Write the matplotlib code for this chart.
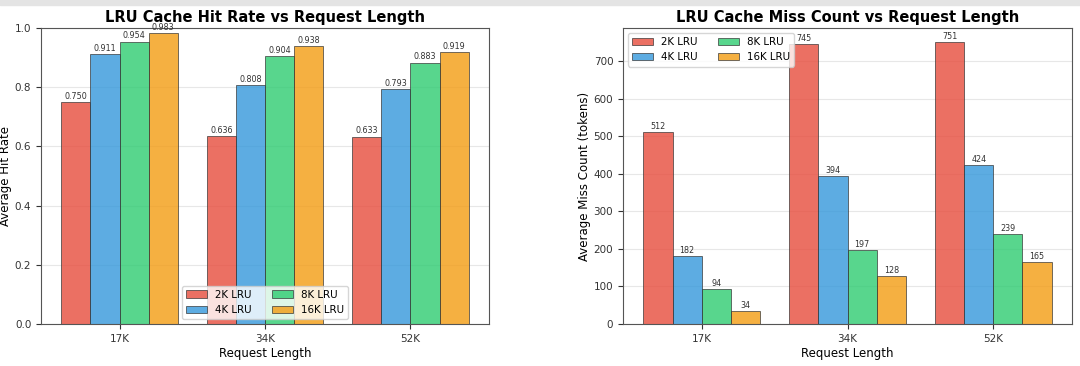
import matplotlib.pyplot as plt
from matplotlib.patches import Rectangle
import numpy as np

lengths = ['17K', '34K', '52K']
cache_sizes = ['2K LRU', '4K LRU', '8K LRU', '16K LRU']
hit_rate = [
    [0.750, 0.636, 0.633],
    [0.911, 0.808, 0.793],
    [0.954, 0.904, 0.883],
    [0.983, 0.938, 0.919],
]
miss_count = [
    [512, 745, 751],
    [182, 394, 424],
    [94, 197, 239],
    [34, 128, 165],
]
colors = ['#e74c3c', '#3498db', '#2ecc71', '#f39c12']

fig = plt.figure(figsize=(10.8, 3.66), dpi=100)
# thin grey strip at the top of the screenshot
fig.patches.append(Rectangle((0, 0.985), 1, 0.015, transform=fig.transFigure,
                             color='#e4e4e4', zorder=-1))
ax1 = fig.add_axes([41 / 1080, 42 / 366, 448 / 1080, 296 / 366])
ax2 = fig.add_axes([623 / 1080, 42 / 366, 449 / 1080, 296 / 366])

x = np.arange(len(lengths))
w = 0.2

for i, name in enumerate(cache_sizes):
    bars = ax1.bar(x + (i - 1.5) * w, hit_rate[i], w, label=name, color=colors[i],
                   alpha=0.8, edgecolor='#333333', linewidth=0.6)
    for b, v in zip(bars, hit_rate[i]):
        ax1.text(b.get_x() + b.get_width() / 2, v + 0.004, f'{v:.3f}',
                 ha='center', va='bottom', fontsize=5.8, color='#333333')
    bars = ax2.bar(x + (i - 1.5) * w, miss_count[i], w, label=name, color=colors[i],
                   alpha=0.8, edgecolor='#333333', linewidth=0.6)
    for b, v in zip(bars, miss_count[i]):
        ax2.text(b.get_x() + b.get_width() / 2, v + 3, f'{v}',
                 ha='center', va='bottom', fontsize=5.8, color='#333333')

ax1.set_title('LRU Cache Hit Rate vs Request Length', fontsize=10.5, fontweight='bold', pad=4)
ax1.set_xlabel('Request Length', fontsize=8.5, labelpad=2)
ax1.set_ylabel('Average Hit Rate', fontsize=8.5, labelpad=2)
ax1.set_ylim(0, 1.0)
ax1.legend(loc='lower center', ncol=2, fontsize=7.4, framealpha=0.8)

ax2.set_title('LRU Cache Miss Count vs Request Length', fontsize=10.5, fontweight='bold', pad=4)
ax2.set_xlabel('Request Length', fontsize=8.5, labelpad=2)
ax2.set_ylabel('Average Miss Count (tokens)', fontsize=8.5, labelpad=2)
ax2.set_ylim(0, max(max(r) for r in miss_count) * 1.05)
ax2.legend(loc='upper left', ncol=2, fontsize=7.4, framealpha=0.8)

for ax in (ax1, ax2):
    ax.set_xticks(x)
    ax.set_xticklabels(lengths)
    ax.tick_params(labelsize=7.5, colors='#333333')
    ax.grid(axis='y', alpha=0.3)
    ax.set_axisbelow(True)
    for s in ax.spines.values():
        s.set_color('#555555')

fig.savefig('out.png', dpi=100)
